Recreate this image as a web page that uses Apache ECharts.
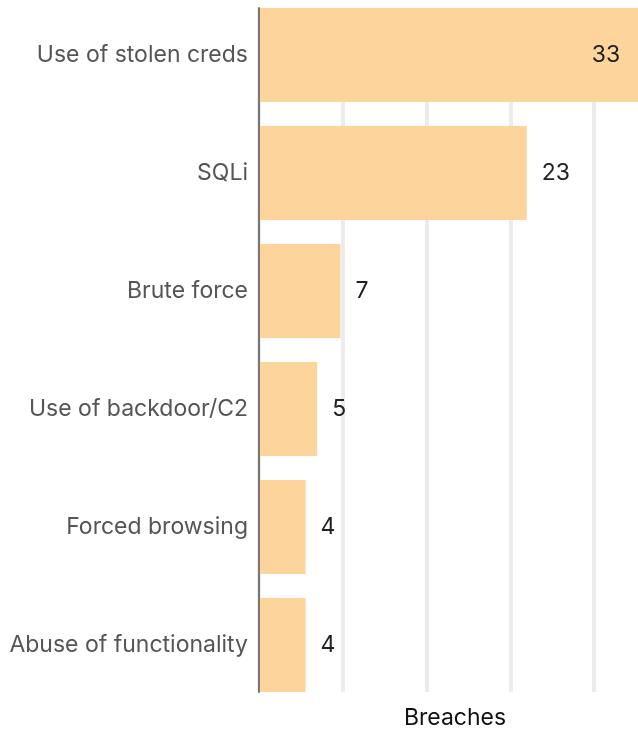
<!DOCTYPE html>
<html>
<head>
<meta charset="utf-8">
<script src="https://cdn.jsdelivr.net/npm/echarts@6/dist/echarts.min.js"></script>
<style>
  html, body { margin: 0; padding: 0; background: #fff; }
  #chart { width: 638px; height: 730px; }
</style>
</head>
<body>
<div id="chart"></div>
<script>
// Breach action varieties and counts
const categories = [
  'Use of stolen creds',
  'SQLi',
  'Brute force',
  'Use of backdoor/C2',
  'Forced browsing',
  'Abuse of functionality'
];
const breaches = [33, 23, 7, 5, 4, 4];
const axisMax = 36;
const gridStep = 7.2;

const FONT = 'Inter, "Liberation Sans", sans-serif';

const chart = echarts.init(document.getElementById('chart'), null, { renderer: 'canvas' });

// bars that run past the visible edge carry their label inside
const barData = breaches.map(v => v > 30
  ? { value: v, label: { position: 'insideRight', distance: 23 } }
  : v);

chart.setOption({
  animation: false,
  backgroundColor: '#ffffff',
  grid: [
    // bar area (bands include outer padding)
    { left: 259, top: -4, width: 419, height: 708, outerBoundsMode: 'none', containLabel: false },
    // frame: axis line + vertical grid lines
    { left: 259, top: 8, width: 419, height: 684, outerBoundsMode: 'none', containLabel: false }
  ],
  xAxis: [
    { gridIndex: 0, type: 'value', min: 0, max: axisMax, show: false },
    {
      gridIndex: 1, type: 'value', min: 0, max: axisMax, interval: gridStep,
      axisLine: { show: false }, axisTick: { show: false }, axisLabel: { show: false },
      splitLine: { show: true, lineStyle: { color: '#ececec', width: 4 } },
      name: 'Breaches', nameLocation: 'middle', nameGap: 15,
      nameTextStyle: { fontFamily: FONT, fontSize: 23, color: '#111', padding: [0, 27, 0, 0] }
    }
  ],
  yAxis: [
    {
      gridIndex: 0, type: 'category', data: categories, inverse: true,
      axisLine: { show: false }, axisTick: { show: false },
      axisLabel: { margin: 11, fontFamily: FONT, fontSize: 23, color: '#555' }
    },
    {
      gridIndex: 1, type: 'category', data: categories, inverse: true, z: 5,
      axisLine: { show: true, lineStyle: { color: '#777', width: 2 } },
      axisTick: { show: false }, axisLabel: { show: false }, splitLine: { show: false }
    }
  ],
  series: [{
    type: 'bar',
    xAxisIndex: 0, yAxisIndex: 0,
    data: barData,
    barWidth: 94,
    itemStyle: { color: '#fdd49b' },
    label: {
      show: true, position: 'right', distance: 15,
      fontFamily: FONT, fontSize: 23, color: '#222'
    }
  }]
});
</script>
</body>
</html>
